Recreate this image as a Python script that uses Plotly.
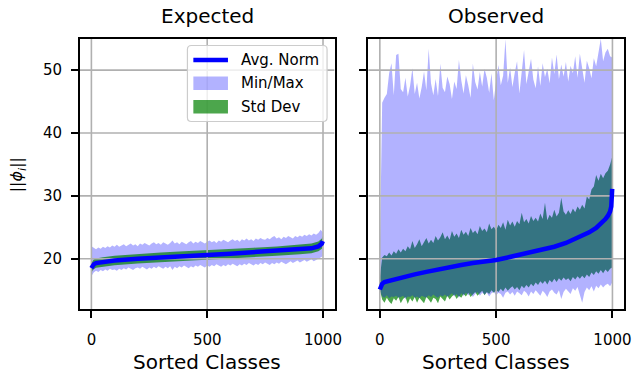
import plotly.graph_objects as go

# ---- data -------------------------------------------------------------
# class index grid for the per-class envelopes (sorted by average norm)
classes = list(range(0, 1000, 10)) + [999]

# Expected: per-class min / max of the feature norm
exp_max = [22.0, 21.7, 21.5, 21.8, 21.6, 21.9, 21.7, 22.0, 21.8, 22.1,
           21.9, 22.2, 21.9, 22.1, 22.3, 22.0, 22.2, 22.4, 22.1, 22.3,
           22.0, 22.4, 22.2, 22.5, 22.3, 22.1, 22.4, 22.6, 22.3, 22.5,
           22.2, 22.6, 22.4, 22.2, 22.5, 22.9, 22.4, 22.6, 22.3, 22.7,
           22.5, 22.3, 22.6, 22.8, 22.4, 22.7, 22.5, 22.8, 22.6, 22.4,
           22.7, 22.9, 22.6, 22.8, 22.5, 22.9, 22.7, 23.0, 22.8, 22.6,
           22.9, 23.1, 22.8, 23.0, 22.7, 23.1, 22.9, 23.2, 22.9, 23.1,
           22.8, 23.2, 23.0, 23.3, 23.1, 23.0, 23.3, 23.1, 23.4, 23.6,
           23.2, 23.4, 23.1, 23.5, 23.3, 23.6, 23.4, 23.2, 23.6, 23.4,
           23.7, 23.5, 23.8, 23.6, 23.9, 23.7, 24.0, 23.8, 24.1, 24.6,
           24.2]
exp_min = [17.2, 17.8, 18.1, 17.9, 18.2, 18.0, 18.3, 18.1, 18.4, 18.2,
           18.3, 18.1, 18.4, 18.2, 18.5, 18.3, 18.6, 18.4, 18.2, 18.5,
           18.6, 18.4, 18.7, 18.5, 18.3, 18.6, 18.4, 18.7, 18.5, 18.8,
           18.6, 18.4, 18.7, 18.5, 18.8, 18.2, 18.7, 18.5, 18.8, 18.6,
           18.9, 18.7, 18.5, 18.8, 18.6, 18.9, 18.7, 19.0, 18.8, 18.6,
           18.9, 18.7, 19.0, 18.8, 19.1, 18.9, 18.7, 19.0, 18.8, 19.1,
           18.9, 19.2, 19.0, 18.8, 19.1, 18.9, 19.2, 19.0, 19.3, 19.1,
           18.9, 19.2, 19.0, 19.3, 19.1, 19.4, 19.2, 19.0, 19.3, 19.1,
           19.4, 19.2, 19.5, 19.3, 19.1, 19.4, 19.6, 19.3, 19.5, 19.7,
           19.4, 19.6, 19.8, 19.5, 19.7, 19.9, 19.6, 19.8, 20.0, 20.2,
           20.4]

# Expected: average norm and its standard deviation
exp_mean_x = [0, 5, 10, 20, 50, 100, 200, 300, 400, 500, 600, 700, 800,
              900, 950, 980, 990, 995, 999]
exp_mean = [18.5, 18.9, 19.1, 19.3, 19.5, 19.7, 20.0, 20.25, 20.45, 20.6,
            20.8, 21.0, 21.2, 21.45, 21.65, 21.95, 22.2, 22.4, 22.8]
exp_std = [0.80, 0.78, 0.76, 0.75, 0.75, 0.75, 0.75, 0.75, 0.75, 0.75,
           0.75, 0.75, 0.75, 0.76, 0.77, 0.78, 0.80, 0.80, 0.80]

# Observed: per-class min / max of the feature norm
obs_max = [21.0, 44.8, 45.6, 46.2, 49.5, 51.1, 46.0, 52.4, 52.6, 47.0,
           46.5, 48.8, 45.8, 47.5, 50.3, 46.2, 48.0, 45.5, 47.3, 49.8,
           46.8, 53.4, 47.9, 46.0, 48.6, 45.9, 51.0, 47.2, 46.5, 49.0,
           47.8, 45.4, 48.2, 47.0, 51.6, 48.4, 46.3, 49.2, 47.6, 45.6,
           51.0, 48.1, 46.9, 49.7, 47.4, 50.2, 48.8, 46.4, 49.5, 45.2,
           48.3, 50.8, 47.6, 49.1, 54.9, 48.0, 50.4, 47.3, 49.6, 51.4,
           46.3, 50.0, 53.2, 47.8, 49.9, 51.8, 48.5, 47.1, 50.6, 47.5,
           51.1, 48.9, 50.2, 47.9, 52.0, 49.4, 52.5, 48.6, 50.9, 49.0,
           51.3, 48.2, 50.7, 49.5, 52.2, 48.8, 52.6, 50.1, 48.0, 51.5,
           50.3, 48.7, 51.9, 50.6, 53.0, 55.0, 51.4, 52.8, 53.4, 52.2,
           52.0]
obs_min = [15.0, 14.0, 13.8, 14.2, 13.7, 14.0, 13.9, 14.1, 13.8, 13.9,
           14.1, 13.6, 14.0, 13.9, 14.2, 13.8, 14.0, 13.7, 14.1, 14.0,
           13.8, 14.2, 13.9, 14.3, 14.0, 13.8, 14.2, 14.0, 14.3, 13.9,
           14.2, 14.5, 14.0, 14.4, 13.8, 14.5, 14.1, 14.6, 14.2, 14.5,
           13.9, 14.4, 14.7, 14.1, 14.6, 14.3, 14.6, 14.0, 14.5, 14.7,
           14.2, 14.6, 14.4, 13.8, 14.6, 14.8, 14.3, 14.7, 14.1, 14.8,
           14.5, 14.2, 14.9, 14.6, 14.0, 14.8, 14.4, 15.0, 14.6, 14.1,
           14.9, 14.5, 13.9, 14.8, 15.1, 14.6, 14.3, 15.0, 13.6, 14.7,
           15.2, 14.8, 14.4, 15.3, 14.9, 15.5, 14.2, 13.0, 14.7, 15.4,
           15.0, 15.6, 14.8, 15.7, 15.3, 15.9, 15.4, 15.8, 16.0, 15.6,
           16.2]

# Observed: mean +/- one standard deviation, per class
obs_std_upper = [17.0, 20.2, 20.6, 20.4, 21.0, 20.5, 21.2, 20.8, 21.5, 21.0,
                 21.6, 21.2, 22.0, 21.5, 22.8, 21.7, 22.3, 23.1, 22.0, 22.6,
                 23.3, 22.4, 23.0, 22.5, 23.6, 22.9, 23.4, 24.2, 23.1, 23.7,
                 23.0, 24.4, 23.5, 24.0, 23.3, 24.6, 23.8, 24.3, 23.6, 24.9,
                 24.1, 24.5, 23.9, 25.2, 24.4, 24.8, 24.2, 25.6, 24.7, 25.1,
                 24.5, 25.4, 24.9, 25.8, 24.6, 26.2, 25.3, 25.9, 25.1, 26.0,
                 25.5, 27.3, 25.8, 26.3, 25.6, 26.8, 26.0, 26.5, 25.9, 27.2,
                 26.3, 28.9, 26.1, 27.0, 26.5, 27.8, 26.7, 27.3, 29.7, 27.5,
                 27.0, 27.7, 27.1, 28.0, 27.4, 28.3, 27.8, 28.6, 28.0, 29.9,
                 29.4, 31.0, 31.5, 33.3, 32.4, 33.5, 32.8, 33.6, 34.0, 35.0,
                 36.2]
obs_std_lower = [15.0, 13.5, 13.0, 13.8, 13.2, 12.8, 13.7, 13.3, 13.9, 12.9,
                 13.6, 13.9, 12.8, 13.7, 13.2, 13.9, 13.0, 13.8, 13.4, 12.9,
                 13.9, 13.5, 13.0, 13.8, 13.6, 12.9, 14.0, 13.7, 13.2, 14.1,
                 13.5, 14.0, 14.3, 13.6, 14.1, 13.8, 14.4, 14.0, 14.6, 13.9,
                 14.3, 14.7, 14.1, 14.5, 14.9, 14.2, 14.7, 14.4, 15.0, 14.6,
                 15.0, 14.7, 15.2, 14.8, 15.4, 14.9, 15.3, 15.6, 15.1, 15.5,
                 15.0, 15.7, 15.3, 15.8, 15.4, 16.0, 15.6, 16.2, 15.8, 16.4,
                 16.0, 16.5, 15.9, 16.6, 16.2, 16.8, 16.3, 16.9, 16.5, 17.0,
                 16.6, 16.9, 16.4, 17.1, 16.7, 17.2, 16.8, 17.3, 16.9, 17.5,
                 17.1, 17.8, 17.4, 18.0, 17.6, 18.2, 17.7, 18.3, 17.9, 18.4,
                 18.6]

# Observed: average norm
obs_mean_x = [0, 5, 10, 20, 50, 100, 150, 200, 250, 300, 350, 400, 450, 500,
              550, 600, 650, 700, 750, 800, 850, 900, 930, 950, 970, 980,
              990, 995, 999]
obs_mean = [15.1, 15.7, 16.0, 16.3, 16.6, 17.0, 17.5, 17.9, 18.3, 18.7,
            19.0, 19.3, 19.5, 19.8, 20.2, 20.6, 21.1, 21.5, 21.9, 22.5,
            23.3, 24.2, 24.9, 25.5, 26.3, 26.8, 27.5, 28.3, 31.1]

x_ticks = [0, 500, 1000]
y_ticks = [20, 30, 40, 50]
x_range = [-50, 1050]
y_range = [11.95, 55.0]
legend_labels = ["Avg. Norm", "Min/Max", "Std Dev"]

# ---- style ------------------------------------------------------------
W, H = 637, 376
FONT = "DejaVu Sans"
BLUE = "#0000ff"
MINMAX = "rgba(0,0,255,0.3)"
STD = "rgba(0,128,0,0.7)"
GRID = "#b0b0b0"
LINE_W = 4.5

fig = go.Figure()


def add_band(xs, lo, hi, color, ax):
    bx = xs + xs[::-1]
    by = hi + lo[::-1]
    fig.add_trace(go.Scatter(
        x=bx, y=by, fill="toself", fillcolor=color, mode="lines",
        line=dict(width=0, color=color), showlegend=False,
        hoverinfo="skip", xaxis="x" + ax, yaxis="y" + ax))


def add_grid(ax):
    # grid sits above the shaded bands but beneath the average line
    for t in x_ticks:
        fig.add_trace(go.Scatter(
            x=[t, t], y=y_range, mode="lines", line=dict(color=GRID, width=1.6),
            showlegend=False, hoverinfo="skip", xaxis="x" + ax, yaxis="y" + ax))
    for t in y_ticks:
        fig.add_trace(go.Scatter(
            x=x_range, y=[t, t], mode="lines", line=dict(color=GRID, width=1.6),
            showlegend=False, hoverinfo="skip", xaxis="x" + ax, yaxis="y" + ax))


# Expected panel
add_band(classes, exp_min, exp_max, MINMAX, "")
exp_lo = [m - s for m, s in zip(exp_mean, exp_std)]
exp_hi = [m + s for m, s in zip(exp_mean, exp_std)]
add_band(exp_mean_x, exp_lo, exp_hi, STD, "")
add_grid("")
fig.add_trace(go.Scatter(x=exp_mean_x, y=exp_mean, mode="lines",
                         line=dict(color=BLUE, width=LINE_W), showlegend=False,
                         hoverinfo="skip", xaxis="x", yaxis="y"))

# Observed panel: std band first, min/max envelope laid over it
add_band(classes, obs_std_lower, obs_std_upper, STD, "2")
add_band(classes, obs_min, obs_max, MINMAX, "2")
add_grid("2")
fig.add_trace(go.Scatter(x=obs_mean_x, y=obs_mean, mode="lines",
                         line=dict(color=BLUE, width=LINE_W), showlegend=False,
                         hoverinfo="skip", xaxis="x2", yaxis="y2"))

x_dom1 = [80.7 / W, 338.3 / W]
x_dom2 = [372.3 / W, 631.0 / W]
y_dom = [1 - 309.3 / H, 1 - 38.7 / H]

axis_common = dict(showline=True, linecolor="black", linewidth=1.6, mirror=True,
                   ticks="outside", ticklen=7, tickwidth=1.6, tickcolor="black",
                   showgrid=False, zeroline=False,
                   tickfont=dict(family=FONT, size=15, color="black"))

fig.update_layout(
    width=W, height=H, margin=dict(l=0, r=0, t=0, b=0),
    paper_bgcolor="white", plot_bgcolor="white",
    font=dict(family=FONT, color="black"),
    xaxis=dict(domain=x_dom1, range=x_range, tickvals=x_ticks,
               ticktext=[str(v) for v in x_ticks], anchor="y",
               ticklabelstandoff=9, **axis_common),
    yaxis=dict(domain=y_dom, range=y_range, tickvals=y_ticks,
               ticktext=[str(v) for v in y_ticks], anchor="x",
               ticklabelstandoff=6, **axis_common),
    xaxis2=dict(domain=x_dom2, range=x_range, tickvals=x_ticks,
                ticktext=[str(v) for v in x_ticks], anchor="y2",
                ticklabelstandoff=9, **axis_common),
    yaxis2=dict(domain=y_dom, range=y_range, tickvals=y_ticks,
                showticklabels=False, anchor="x2", **axis_common),
    showlegend=False,
)

# ---- legend box (pixel layout converted to paper fractions) ------------
def px(x):
    return x / W


def py(y):
    return 1 - y / H


L, R, T, B, rad = 189.5, 330.7, 45.5, 121.5, 4.0
box_path = (
    f"M {px(L + rad)},{py(T)} L {px(R - rad)},{py(T)} "
    f"Q {px(R)},{py(T)} {px(R)},{py(T + rad)} L {px(R)},{py(B - rad)} "
    f"Q {px(R)},{py(B)} {px(R - rad)},{py(B)} L {px(L + rad)},{py(B)} "
    f"Q {px(L)},{py(B)} {px(L)},{py(B - rad)} L {px(L)},{py(T + rad)} "
    f"Q {px(L)},{py(T)} {px(L + rad)},{py(T)} Z"
)
fig.add_shape(type="path", path=box_path, xref="paper", yref="paper",
              fillcolor="rgba(255,255,255,0.8)", line=dict(color="#cccccc", width=1.2),
              layer="above")

row_y = [60.0, 83.3, 106.7]
hx0, hx1 = 195.5, 230.5
fig.add_shape(type="line", x0=px(hx0), x1=px(hx1), y0=py(row_y[0]), y1=py(row_y[0]),
              xref="paper", yref="paper", line=dict(color=BLUE, width=LINE_W),
              layer="above")
for yc, col in zip(row_y[1:], [MINMAX, STD]):
    fig.add_shape(type="rect", x0=px(hx0), x1=px(hx1), y0=py(yc - 6.7), y1=py(yc + 6.7),
                  xref="paper", yref="paper", fillcolor=col, line=dict(width=0),
                  layer="above")
for yc, lab in zip(row_y, legend_labels):
    fig.add_annotation(text=lab, x=px(241.5), y=py(yc), xanchor="left", yanchor="middle",
                       xref="paper", yref="paper", showarrow=False,
                       font=dict(family=FONT, size=15, color="black"))

# ---- titles -------------------------------------------------------------
cx1 = (x_dom1[0] + x_dom1[1]) / 2
cx2 = (x_dom2[0] + x_dom2[1]) / 2
ann = dict(xref="paper", yref="paper", showarrow=False,
           font=dict(family=FONT, size=20, color="black"))
fig.add_annotation(text="Expected", x=cx1, y=py(16), xanchor="center", yanchor="middle", **ann)
fig.add_annotation(text="Observed", x=cx2, y=py(16), xanchor="center", yanchor="middle", **ann)
fig.add_annotation(text="Sorted Classes", x=cx1, y=py(362), xanchor="center", yanchor="middle", **ann)
fig.add_annotation(text="Sorted Classes", x=cx2, y=py(362), xanchor="center", yanchor="middle", **ann)
fig.add_annotation(text="||<i>ϕ</i><sub><i>i</i></sub>||", x=px(17.5), y=py(175),
                   xanchor="center", yanchor="middle", textangle=-90,
                   xref="paper", yref="paper", showarrow=False,
                   font=dict(family=FONT, size=16, color="black"))

fig.write_html("out.html")
